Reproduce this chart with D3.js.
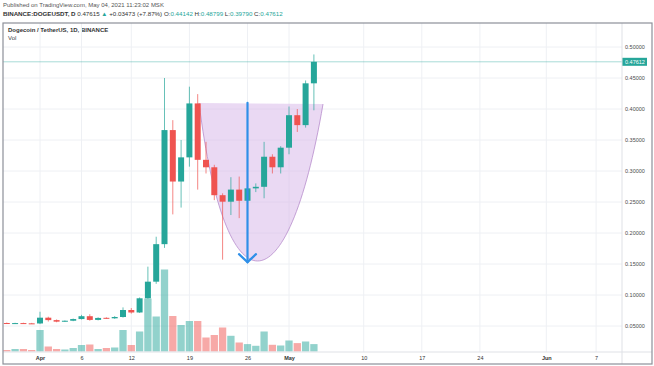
<!DOCTYPE html>
<html>
<head>
<meta charset="utf-8">
<script src="https://cdn.jsdelivr.net/npm/d3@7"></script>
<style>
	body{margin:0;background:#fff;}
	svg{display:block;font-family:Arial,'Liberation Sans',sans-serif;}
</style>
</head>
<body>
<svg id="canvas" width="654" height="366">
	<defs><clipPath id="plotClip"><rect x="3" y="23" width="619" height="329"></rect></clipPath></defs>
	<g id="header"></g>
	<g id="grid"></g>
	<g id="plot" clip-path="url(#plotClip)">
		<g id="volume"></g>
		<g id="cup"></g>
		<g id="candles"></g>
		<g id="arrow"></g>
		<g id="priceLine"></g>
	</g>
	<g id="yAxis"></g>
	<g id="xAxis"></g>
	<g id="frame"></g>
</svg>
<script>
'use strict';

// daily candles, BINANCE:DOGEUSDT
const dates = ['2021-03-28','2021-03-29','2021-03-30','2021-03-31','2021-04-01','2021-04-02','2021-04-03','2021-04-04',
	'2021-04-05','2021-04-06','2021-04-07','2021-04-08','2021-04-09','2021-04-10','2021-04-11','2021-04-12',
	'2021-04-13','2021-04-14','2021-04-15','2021-04-16','2021-04-17','2021-04-18','2021-04-19','2021-04-20',
	'2021-04-21','2021-04-22','2021-04-23','2021-04-24','2021-04-25','2021-04-26','2021-04-27','2021-04-28',
	'2021-04-29','2021-04-30','2021-05-01','2021-05-02','2021-05-03','2021-05-04'];
const opens = [0.0548,0.0543,0.0547,0.0543,0.0541,0.0634,0.0595,0.0570,
	0.0585,0.0612,0.0658,0.0598,0.0632,0.0624,0.0645,0.0758,
	0.0718,0.0947,0.1215,0.1820,0.3660,0.2830,0.3220,0.4090,
	0.3180,0.3060,0.2610,0.2505,0.2700,0.2520,0.2720,0.2745,
	0.3230,0.3060,0.3376,0.3900,0.3740,0.44142];
const highs = [0.0556,0.0552,0.0553,0.0550,0.0730,0.0650,0.0606,0.0590,
	0.0620,0.0680,0.0690,0.0640,0.0640,0.0660,0.0800,0.0790,
	0.0960,0.1457,0.1940,0.4500,0.3820,0.3500,0.4360,0.4240,
	0.3470,0.3100,0.2640,0.2900,0.2910,0.2800,0.2800,0.3470,
	0.3270,0.3400,0.4040,0.4000,0.4460,0.48799];
const lows = [0.0536,0.0537,0.0538,0.0534,0.0531,0.0572,0.0560,0.0565,
	0.0578,0.0605,0.0585,0.0590,0.0615,0.0615,0.0635,0.0700,
	0.0710,0.0940,0.1180,0.1760,0.2300,0.2410,0.3070,0.2700,
	0.2960,0.2530,0.1570,0.2290,0.2240,0.2450,0.2660,0.2560,
	0.2960,0.2960,0.3270,0.3630,0.3700,0.39790];
const closes = [0.0543,0.0547,0.0543,0.0541,0.0634,0.0595,0.0570,0.0585,
	0.0612,0.0658,0.0598,0.0630,0.0624,0.0645,0.0758,0.0718,
	0.0947,0.1215,0.1820,0.3660,0.2830,0.3220,0.4090,0.3180,
	0.3060,0.2610,0.2505,0.2700,0.2520,0.2720,0.2745,0.3230,
	0.3060,0.3376,0.3900,0.3740,0.44142,0.47612];
// volume, billions
const volumes = [0.15,0.25,0.25,0.15,2.15,0.5,0.25,0.2,
	0.35,0.65,0.7,0.25,0.35,0.4,2.15,0.65,
	2.0,5.3,3.5,8.2,3.55,2.65,3.05,3.05,
	1.4,1.65,2.4,1.57,0.9,0.74,0.57,2.0,
	0.67,0.6,1.1,0.84,1.0,0.74];

const priceTicks = [0.05,0.10,0.15,0.20,0.25,0.30,0.35,0.40,0.45,0.50];
const timeTicks = ['2021-04-01','2021-04-06','2021-04-12','2021-04-19','2021-04-26','2021-05-01','2021-05-10','2021-05-17','2021-05-24','2021-06-01','2021-06-07'];
const timeTickLabels = ['Apr','6','12','19','26','May','10','17','24','Jun','7'];
const boldTicks = ['Apr','May','Jun'];

const lastPrice = 0.47612;

// drawn cup: start, two control points, end (date, price)
const cupPoints = [['2021-04-20T03:50Z',0.4097],['2021-04-23T08:00Z',0.0702],['2021-04-30T19:00Z',0.0702],['2021-05-05T02:20Z',0.4080]];
// drawn arrow (date, price from, price to)
const arrowDate = '2021-04-26';
const arrowFrom = 0.410;
const arrowTo = 0.153;

const headerLine1 = 'Published on TradingView.com, May 04, 2021 11:23:02 MSK';
const headerLine2 = [['BINANCE:DOGEUSDT, D ','b'],['0.47615 ','n'],['\u25B2','g'],[' +0.03473 (+7.87%) ','n'],
	['O:','n'],['0.44142','g'],[' H:','n'],['0.48799','g'],[' L:','n'],['0.39790','g'],[' C:','n'],['0.47612','g']];
const paneTitle = 'Dogecoin / TetherUS, 1D, BINANCE';

class DogeChart{

	constructor(){
		this.up = '#26a69a';
		this.down = '#ef5350';
		this.parse = d3.utcParse('%Y-%m-%d');
		this.rows = dates.map((d,i) => ({
			date: this.parse(d), o: opens[i], h: highs[i], l: lows[i], c: closes[i], v: volumes[i]
		}));
		this._margin = {top: 23, right: 622, bottom: 352, left: 3};
		this.plot();
	}

	plot(){
		this.x = d3.scaleUtc()
			.domain([this.parse('2021-04-01'), this.parse('2021-06-07')])
			.range([40, 596.1]);
		this.y = d3.scaleLinear()
			.domain([0, 0.5])
			.range([357, 47]);
		this.yVol = d3.scaleLinear()
			.domain([0, d3.max(this.rows, d => d.v)])
			.range([351.5, 269.5]);

		this.plotHeader();
		this.plotGrid();
		this.plotVolume();
		this.plotCup();
		this.plotCandles();
		this.plotArrow();
		this.plotPriceLine();
		this.plotYAxis();
		this.plotXAxis();
		this.plotFrame();
	}

	plotHeader(){
		const g = d3.select('g#header');
		g.append('text')
			.attr('x', 3).attr('y', 7)
			.attr('font-size', 6).attr('fill', '#555')
			.text(headerLine1);
		g.append('text')
			.attr('x', 3).attr('y', 16)
			.attr('font-size', 6.2)
			.selectAll('tspan')
			.data(headerLine2)
			.join('tspan')
				.attr('font-weight', d => d[1] === 'b' ? 'bold' : 'normal')
				.attr('fill', d => d[1] === 'g' ? this.up : '#333')
				.attr('xml:space', 'preserve')
				.text(d => d[0]);
		g.append('text')
			.attr('x', 8).attr('y', 32)
			.attr('font-size', 6).attr('font-weight', 'bold').attr('fill', '#333')
			.text(paneTitle);
		g.append('text')
			.attr('x', 8).attr('y', 40)
			.attr('font-size', 6).attr('fill', '#444')
			.text('Vol');
	}

	plotGrid(){
		const g = d3.select('g#grid');
		g.selectAll('line.v')
			.data(timeTicks.map(this.parse))
			.join('line')
				.attr('class', 'v')
				.attr('x1', d => this.x(d)).attr('x2', d => this.x(d))
				.attr('y1', this._margin.top).attr('y2', this._margin.bottom)
				.attr('stroke', '#eef0f4');
		g.selectAll('line.h')
			.data(priceTicks)
			.join('line')
				.attr('class', 'h')
				.attr('x1', this._margin.left).attr('x2', this._margin.right)
				.attr('y1', d => this.y(d)).attr('y2', d => this.y(d))
				.attr('stroke', '#eef0f4');
	}

	plotVolume(){
		const w = 7.3;
		d3.select('g#volume')
			.selectAll('rect')
			.data(this.rows)
			.join('rect')
				.attr('x', d => this.x(d.date)-w/2)
				.attr('y', d => this.yVol(d.v))
				.attr('width', w)
				.attr('height', d => this.yVol(0)-this.yVol(d.v))
				.attr('fill', d => d.c >= d.o ? this.up : this.down)
				.attr('fill-opacity', 0.5);
	}

	plotCup(){
		const pts = cupPoints.map(p => [this.x(d3.isoParse(p[0])), this.y(p[1])]);
		const curve = d3.path();
		curve.moveTo(pts[0][0], pts[0][1]);
		curve.bezierCurveTo(pts[1][0], pts[1][1], pts[2][0], pts[2][1], pts[3][0], pts[3][1]);
		const g = d3.select('g#cup');
		g.append('path')
			.attr('d', curve.toString()+'Z')
			.attr('fill', '#d9b9ea')
			.attr('fill-opacity', 0.55);
		g.append('path')
			.attr('d', curve.toString())
			.attr('fill', 'none')
			.attr('stroke', '#b68ccb')
			.attr('stroke-width', 0.8);
	}

	plotCandles(){
		const w = 6;
		const g = d3.select('g#candles');
		g.selectAll('line')
			.data(this.rows)
			.join('line')
				.attr('x1', d => this.x(d.date)).attr('x2', d => this.x(d.date))
				.attr('y1', d => this.y(d.h)).attr('y2', d => this.y(d.l))
				.attr('stroke', d => d.c >= d.o ? this.up : this.down)
				.attr('stroke-opacity', 0.7);
		g.selectAll('rect')
			.data(this.rows)
			.join('rect')
				.attr('x', d => this.x(d.date)-w/2)
				.attr('y', d => this.y(Math.max(d.o, d.c)))
				.attr('width', w)
				.attr('height', d => Math.max(1, Math.abs(this.y(d.o)-this.y(d.c))))
				.attr('fill', d => d.c >= d.o ? this.up : this.down);
	}

	plotArrow(){
		const ax = this.x(this.parse(arrowDate));
		const tip = this.y(arrowTo);
		const g = d3.select('g#arrow')
			.attr('stroke', '#2f8fe8')
			.attr('stroke-width', 2.2)
			.attr('fill', 'none')
			.attr('stroke-linecap', 'round');
		g.append('line')
			.attr('x1', ax).attr('x2', ax)
			.attr('y1', this.y(arrowFrom)).attr('y2', tip);
		g.append('path')
			.attr('d', 'M'+(ax-8.5)+','+(tip-8)+'L'+ax+','+tip+'L'+(ax+8.5)+','+(tip-8));
	}

	plotPriceLine(){
		d3.select('g#priceLine')
			.append('line')
			.attr('x1', this._margin.left).attr('x2', this._margin.right)
			.attr('y1', this.y(lastPrice)).attr('y2', this.y(lastPrice))
			.attr('stroke', this.up)
			.attr('stroke-opacity', 0.5)
			.attr('stroke-width', 0.8);
	}

	plotYAxis(){
		const axis = d3.axisRight(this.y)
			.tickValues(priceTicks)
			.tickFormat(d3.format('.5f'))
			.tickSize(0)
			.tickPadding(3);
		const g = d3.select('g#yAxis')
			.attr('transform', 'translate('+this._margin.right+',0)')
			.call(axis);
		g.attr('font-family', null).attr('font-size', 5.5);
		g.select('.domain').remove();
		g.selectAll('.tick text').attr('fill', '#4a4a4a');

		const ly = this.y(lastPrice);
		g.append('rect')
			.attr('x', 0).attr('y', ly-4)
			.attr('width', 25).attr('height', 8)
			.attr('fill', this.up);
		g.append('text')
			.attr('x', 3).attr('y', ly)
			.attr('dy', '0.35em')
			.attr('fill', '#fff')
			.text(lastPrice.toFixed(5));
	}

	plotXAxis(){
		const axis = d3.axisBottom(this.x)
			.tickValues(timeTicks.map(this.parse))
			.tickFormat((d,i) => timeTickLabels[i])
			.tickSize(0)
			.tickPadding(4);
		const g = d3.select('g#xAxis')
			.attr('transform', 'translate(0,'+this._margin.bottom+')')
			.call(axis);
		g.attr('font-family', null).attr('font-size', 5.5);
		g.select('.domain').remove();
		g.selectAll('.tick text')
			.attr('fill', '#333')
			.attr('font-weight', (d,i) => boldTicks.includes(timeTickLabels[i]) ? 'bold' : 'normal');
	}

	plotFrame(){
		const g = d3.select('g#frame');
		g.append('line')
			.attr('x1', this._margin.right).attr('x2', this._margin.right)
			.attr('y1', this._margin.top).attr('y2', 364)
			.attr('stroke', '#dfe1e6');
		g.append('line')
			.attr('x1', this._margin.left).attr('x2', 652)
			.attr('y1', this._margin.bottom).attr('y2', this._margin.bottom)
			.attr('stroke', '#dfe1e6');
		g.append('rect')
			.attr('x', this._margin.left).attr('y', this._margin.top)
			.attr('width', 649).attr('height', 341)
			.attr('fill', 'none')
			.attr('stroke', '#8d9099')
			.attr('stroke-width', 1.2);
	}
}

new DogeChart();
</script>
</body>
</html>
